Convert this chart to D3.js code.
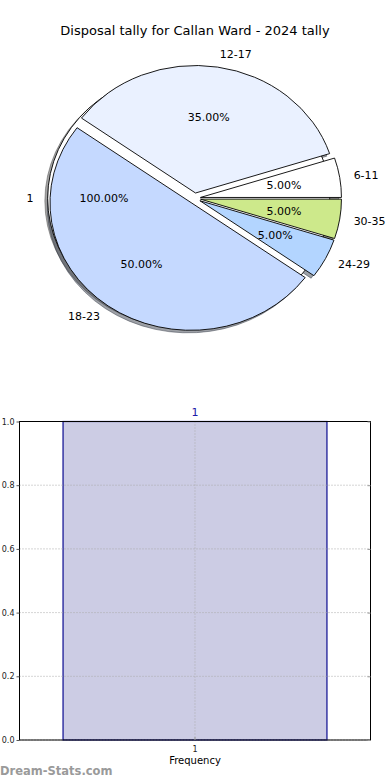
<!DOCTYPE html>
<html>
<head>
<meta charset="utf-8">
<script src="https://cdn.jsdelivr.net/npm/d3@7"></script>
<style>
  html, body { margin: 0; padding: 0; background: #fff; }
  svg { display: block; font-family: "DejaVu Sans", sans-serif; }
</style>
</head>
<body>
<svg id="chart" width="390" height="780"></svg>
<script>
// ---- data ----
const title = "Disposal tally for Callan Ward - 2024 tally";
const pieCategories = ["6-11", "12-17", "18-23", "24-29", "30-35"];
const pieValues = [1, 7, 10, 1, 1];
const pieColors = ["#ffffff", "#eaf1ff", "#c5d9ff", "#b3d5ff", "#cde98b"];
const baseCategories = ["1"];
const baseValues = [1];
const baseColors = ["#ffffff"];

const barCategories = ["1"];
const barValues = [1.0];
const yTicks = [0.0, 0.2, 0.4, 0.6, 0.8, 1.0];
const xLabel = "Frequency";
const watermark = "Dream-Stats.com";

// ---- layout ----
const svg = d3.select("#chart");
const cx = 194.6, cy = 198.3, rx = 141, ry = 127.5;
const explode = 0.042;
const shadowDx = -0.02 * rx, shadowDy = 0.02 * ry;

svg.append("text")
  .attr("x", 195).attr("y", 30)
  .attr("text-anchor", "middle").attr("dominant-baseline", "central")
  .attr("font-size", 13).attr("fill", "#000")
  .text(title);

const pieGen = d3.pie().sort(null).startAngle(Math.PI / 2).endAngle(Math.PI / 2 - 2 * Math.PI);
const arcGen = d3.arc().innerRadius(0).outerRadius(rx);

function prep(cats, vals, cols) {
  const total = d3.sum(vals);
  return pieGen(vals).map((d, i) => {
    const mid = (d.startAngle + d.endAngle) / 2;
    const sx = Math.sin(mid), sy = -Math.cos(mid);
    const ox = cx + explode * rx * sx, oy = cy + explode * ry * sy;
    return { d, cat: cats[i], color: cols[i], pct: vals[i] / total * 100, sx, sy, ox, oy };
  });
}
const base = prep(baseCategories, baseValues, baseColors);
const slices = prep(pieCategories, pieValues, pieColors);

const shade = c => { const r = d3.rgb(c); return d3.rgb(r.r * 0.3, r.g * 0.3, r.b * 0.3).toString(); };

function drawShadows(list) {
  list.forEach(s => {
    svg.append("g")
      .attr("transform", `translate(${s.ox + shadowDx},${s.oy + shadowDy}) scale(1,${ry / rx})`)
      .append("path")
      .attr("d", arcGen(s.d))
      .attr("fill", shade(s.color)).attr("fill-opacity", 0.5)
      .attr("stroke", shade(s.color)).attr("stroke-opacity", 0.5)
      .attr("stroke-width", 1).attr("vector-effect", "non-scaling-stroke");
  });
}
function drawWedges(list) {
  list.forEach(s => {
    svg.append("g")
      .attr("transform", `translate(${s.ox},${s.oy}) scale(1,${ry / rx})`)
      .append("path")
      .attr("d", arcGen(s.d))
      .attr("fill", s.color)
      .attr("stroke", "#000").attr("stroke-width", 0.9)
      .attr("stroke-linejoin", "round")
      .attr("vector-effect", "non-scaling-stroke");
  });
}
function drawLabels(list) {
  list.forEach(s => {
    svg.append("text")
      .attr("x", s.ox + 1.1 * rx * s.sx).attr("y", s.oy + 1.1 * ry * s.sy)
      .attr("text-anchor", s.sx > 0 ? "start" : "end")
      .attr("dominant-baseline", "central")
      .attr("font-size", 11).attr("fill", "#000")
      .text(s.cat);
    svg.append("text")
      .attr("x", s.ox + 0.6 * rx * s.sx).attr("y", s.oy + 0.6 * ry * s.sy)
      .attr("text-anchor", "middle")
      .attr("dominant-baseline", "central")
      .attr("font-size", 11).attr("fill", "#000")
      .text(s.pct.toFixed(2) + "%");
  });
}

drawShadows(base);
drawShadows(slices);
drawWedges(base);
drawWedges(slices);
drawLabels(base);
drawLabels(slices);

// ---- bar chart ----
const ax = { left: 19.5, right: 370.5, top: 421.5, bottom: 740 };
const x = d3.scaleBand().domain(barCategories).range([ax.left, ax.right]).paddingInner(0).paddingOuter(0.165);
const y = d3.scaleLinear().domain([0, 1]).range([ax.bottom, ax.top]);

svg.selectAll("rect.bar").data(barValues).enter().append("rect")
  .attr("class", "bar")
  .attr("x", (d, i) => x(barCategories[i]))
  .attr("y", d => y(d))
  .attr("width", x.bandwidth())
  .attr("height", d => y(0) - y(d))
  .attr("fill", "#cccce4")
  .attr("stroke", "#0c0c90").attr("stroke-width", 1.2);

const grid = svg.append("g");
yTicks.forEach(t => {
  grid.append("line")
    .attr("x1", ax.left).attr("x2", ax.right)
    .attr("y1", y(t)).attr("y2", y(t))
    .attr("stroke", "#aaaaaa").attr("stroke-width", 1).attr("stroke-dasharray", "1,2");
});
barCategories.forEach(c => {
  const xc = x(c) + x.bandwidth() / 2;
  grid.append("line")
    .attr("x1", xc).attr("x2", xc)
    .attr("y1", ax.top).attr("y2", ax.bottom)
    .attr("stroke", "#aaaaaa").attr("stroke-width", 1).attr("stroke-dasharray", "1,2");
});

svg.append("rect")
  .attr("x", ax.left).attr("y", ax.top)
  .attr("width", ax.right - ax.left).attr("height", ax.bottom - ax.top)
  .attr("fill", "none").attr("stroke", "#000").attr("stroke-width", 1);

const yAxis = d3.axisLeft(y).tickValues(yTicks).tickFormat(d3.format(".1f")).tickSize(3).tickPadding(2);
const gy = svg.append("g").attr("transform", `translate(${ax.left},0)`).call(yAxis);
gy.select(".domain").remove();
gy.selectAll(".tick line").attr("stroke", "#555");
gy.selectAll(".tick text").attr("font-size", 8).attr("fill", "#222").attr("font-family", "DejaVu Sans, sans-serif");

const gyr = svg.append("g").attr("transform", `translate(${ax.right},0)`)
  .call(d3.axisLeft(y).tickValues(yTicks).tickSize(3).tickFormat(""));
gyr.select(".domain").remove();
gyr.selectAll(".tick line").attr("stroke", "#999");

const xAxis = d3.axisBottom(x).tickSize(3).tickPadding(3);
const gx = svg.append("g").attr("transform", `translate(0,${ax.bottom})`).call(xAxis);
gx.select(".domain").remove();
gx.selectAll(".tick line").attr("stroke", "#999").attr("transform", "translate(0,-3)");
gx.selectAll(".tick text").attr("font-size", 8).attr("fill", "#222").attr("font-family", "DejaVu Sans, sans-serif");

svg.selectAll("text.barlabel").data(barValues).enter().append("text")
  .attr("class", "barlabel")
  .attr("x", (d, i) => x(barCategories[i]) + x.bandwidth() / 2)
  .attr("y", d => y(d) - 9)
  .attr("text-anchor", "middle").attr("dominant-baseline", "central")
  .attr("font-size", 11).attr("fill", "#1c1ca8")
  .text((d, i) => barCategories[i]);

svg.append("text")
  .attr("x", 195).attr("y", 760)
  .attr("text-anchor", "middle").attr("dominant-baseline", "central")
  .attr("font-size", 10).attr("fill", "#000")
  .text(xLabel);

svg.append("text")
  .attr("x", 0).attr("y", 771)
  .attr("dominant-baseline", "central")
  .attr("font-size", 11.5).attr("font-weight", "bold").attr("fill", "#9a9a9a")
  .text(watermark);
</script>
</body>
</html>
